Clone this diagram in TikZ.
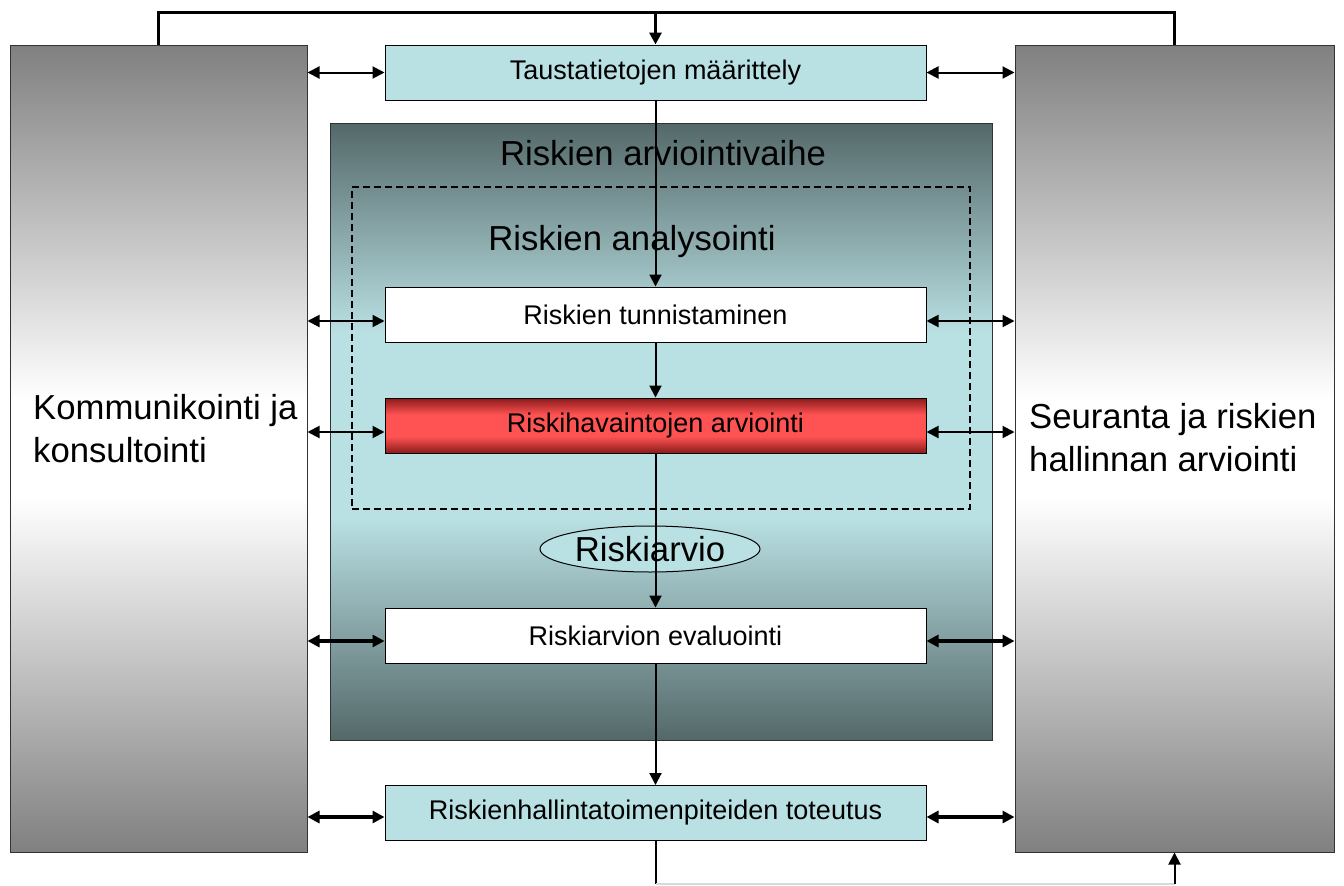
\documentclass[tikz,border=0pt]{standalone}
\usepackage{fontspec}
\setmainfont{Liberation Sans}
\usetikzlibrary{arrows.meta,shapes.geometric}
\definecolor{lcyan}{HTML}{B9E0E3}
\definecolor{dslate}{HTML}{546869}
\definecolor{colgray}{HTML}{808080}
\definecolor{dred}{HTML}{8A1A1A}
\definecolor{bred}{HTML}{FF5252}
\pgfdeclareverticalshading{colshade}{100bp}{color(0bp)=(colgray); color(25bp)=(colgray); color(47bp)=(white); color(53bp)=(white); color(75bp)=(colgray); color(100bp)=(colgray)}
\pgfdeclareverticalshading{bigshade}{100bp}{color(0bp)=(dslate); color(25bp)=(dslate); color(43bp)=(lcyan); color(58bp)=(lcyan); color(75bp)=(dslate); color(100bp)=(dslate)}
\pgfdeclareverticalshading{redshade}{100bp}{color(0bp)=(dred); color(25bp)=(dred); color(40bp)=(bred); color(60bp)=(bred); color(75bp)=(dred); color(100bp)=(dred)}
\tikzset{
  column/.style={draw=black!80, line width=1pt, shading=colshade, inner sep=0pt},
  bigbox/.style={draw=black!80, line width=1pt, shading=bigshade, inner sep=0pt, minimum width=662pt, minimum height=617pt},
  dashbox/.style={draw=black, line width=2pt, dash pattern=on 7pt off 4pt, inner sep=0pt, minimum width=618pt, minimum height=322pt},
  stepbox/.style={draw=black, line width=1pt, inner sep=0pt, minimum width=541pt, minimum height=55pt, font=\fontsize{27}{32}\selectfont},
  cyanbox/.style={stepbox, fill=lcyan},
  whitebox/.style={stepbox, fill=white},
  redbox/.style={stepbox, shading=redshade},
  biglabel/.style={inner sep=0pt, font=\fontsize{34.7}{43}\selectfont, align=left},
  ovalbox/.style={ellipse, draw=black, line width=1pt, fill=lcyan, inner sep=0pt, minimum width=220pt, minimum height=46pt, font=\fontsize{34.7}{40}\selectfont},
  tip/.style={-{Triangle[length=12pt,width=12pt]}},
  dbl/.style={{Triangle[length=12pt,width=12pt]}-{Triangle[length=12pt,width=12pt]}, line width=2pt},
  dblthick/.style={dbl, line width=3.5pt},
  vline/.style={line width=2pt},
  loopline/.style={line width=3pt},
}
\begin{document}
\begin{tikzpicture}[x=1pt,y=-1pt]
\useasboundingbox (0,0) rectangle (1344,886);
\fill[white] (0,0) rectangle (1344,886);
\coordinate (topy) at (0,12);
\coordinate (boty) at (0,884);
% columns
\node[column, minimum width=297pt, minimum height=807pt] (lcol) at (158.5,448.5) {};
\node[column, minimum width=319pt, minimum height=807pt] (rcol) at (1174.5,448.5) {};
\node[biglabel, anchor=west] (ltext) at (33,429) {Kommunikointi ja\\konsultointi};
\node[biglabel, anchor=west] (rtext) at (1029,438) {Seuranta ja riskien\\hallinnan arviointi};
% assessment phase
\node[bigbox] (phase) at (661,431.5) {};
\node[dashbox] (analysis) at (661,348) {};
\node[biglabel] (phasetitle) at (663,153) {Riskien arviointivaihe};
\node[biglabel] (analysistitle) at (632,242) {Riskien analysointi};
% step boxes
\node[cyanbox] (ctx) at (655.5,72.5) {Taustatietojen määrittely};
\node[whitebox] (ident) at (655.5,314.5) {\raisebox{-2pt}{Riskien tunnistaminen}};
\node[redbox] (est) at (655.5,425.5) {\raisebox{-2pt}{Riskihavaintojen arviointi}};
\node[ovalbox] (ra) at (650,549) {Riskiarvio};
\node[whitebox] (eval) at (655.5,635.5) {\raisebox{-1pt}{Riskiarvion evaluointi}};
\node[cyanbox] (treat) at (655.5,813) {\raisebox{-1pt}{Riskienhallintatoimenpiteiden toteutus}};
% attachment points for side arrows
\coordinate (identW) at ([yshift=-6.5pt]ident.west);
\coordinate (identE) at ([yshift=-6.5pt]ident.east);
\coordinate (estW) at ([yshift=-6.5pt]est.west);
\coordinate (estE) at ([yshift=-6.5pt]est.east);
\coordinate (evalW) at ([yshift=-5.5pt]eval.west);
\coordinate (evalE) at ([yshift=-5.5pt]eval.east);
\coordinate (treatW) at ([yshift=-4pt]treat.west);
\coordinate (treatE) at ([yshift=-4pt]treat.east);
% vertical flow
\draw[vline, tip] (ctx.south) -- (ident.north);
\draw[vline, tip] (ident.south) -- (est.north);
\draw[vline, tip] (est.south) -- (eval.north);
\draw[vline, tip] (eval.south) -- (treat.north);
% top loop
\draw[loopline] (lcol.north) -- (lcol.north |- topy) -- (rcol.north |- topy) -- (rcol.north);
\draw[loopline, tip] (ctx.north |- topy) -- (ctx.north);
% bottom loop
\draw[vline] (treat.south) -- (treat.south |- boty);
\draw[line width=2pt, black!15] (treat.south |- boty) -- (rcol.south |- boty);
\draw[vline, tip] (rcol.south |- boty) -- (rcol.south);
% side arrows
\draw[dbl] (lcol.east |- ctx.west) -- (ctx.west);
\draw[dbl] (ctx.east) -- (rcol.west |- ctx.east);
\draw[dbl] (lcol.east |- identW) -- (identW);
\draw[dbl] (identE) -- (rcol.west |- identE);
\draw[dbl] (lcol.east |- estW) -- (estW);
\draw[dbl] (estE) -- (rcol.west |- estE);
\draw[dblthick] (lcol.east |- evalW) -- (evalW);
\draw[dblthick] (evalE) -- (rcol.west |- evalE);
\draw[dblthick] (lcol.east |- treatW) -- (treatW);
\draw[dblthick] (treatE) -- (rcol.west |- treatE);
\end{tikzpicture}
\end{document}
